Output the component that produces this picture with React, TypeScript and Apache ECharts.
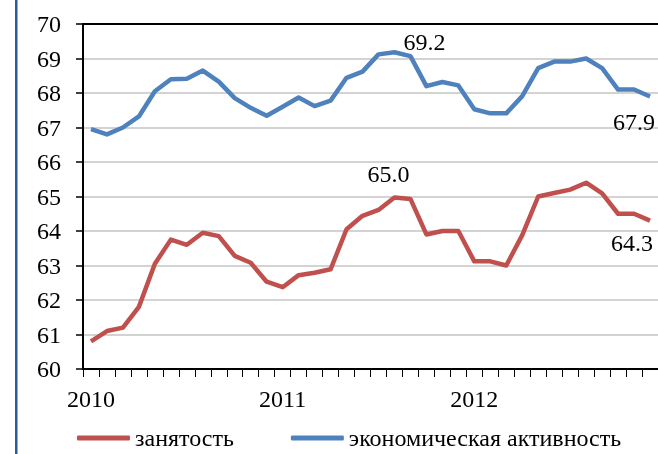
import React, { useEffect, useRef } from "react";
import * as echarts from "echarts";

const months: string[] = [
  "2010-01", "2010-02", "2010-03", "2010-04", "2010-05", "2010-06",
  "2010-07", "2010-08", "2010-09", "2010-10", "2010-11", "2010-12",
  "2011-01", "2011-02", "2011-03", "2011-04", "2011-05", "2011-06",
  "2011-07", "2011-08", "2011-09", "2011-10", "2011-11", "2011-12",
  "2012-01", "2012-02", "2012-03", "2012-04", "2012-05", "2012-06",
  "2012-07", "2012-08", "2012-09", "2012-10", "2012-11", "2012-12",
];

const yearTickLabels: Record<string, string> = {
  "2010-01": "2010",
  "2011-01": "2011",
  "2012-01": "2012",
};

const employment: number[] = [
  60.8, 61.1, 61.2, 61.8, 63.05, 63.75, 63.6, 63.95, 63.85, 63.28, 63.08, 62.53,
  62.37, 62.72, 62.79, 62.89, 64.05, 64.44, 64.61, 64.97, 64.93, 63.9, 64.0, 64.0,
  63.12, 63.12, 63.0, 63.88, 65.0, 65.1, 65.2, 65.4, 65.09, 64.5, 64.5, 64.3,
];

const activity: number[] = [
  66.95, 66.8, 67.0, 67.32, 68.05, 68.4, 68.41, 68.65, 68.33, 67.85, 67.57, 67.34,
  67.6, 67.87, 67.62, 67.78, 68.44, 68.62, 69.12, 69.18, 69.07, 68.2, 68.32, 68.22,
  67.53, 67.41, 67.41, 67.91, 68.72, 68.91, 68.91, 69.0, 68.72, 68.1, 68.1, 67.9,
];

const seriesNames = ["занятость", "экономическая активность"];

const FONT = "Liberation Serif";
const FS = 24;

type LabelSpec = { index: number; text: string; offset: [number, number] };

const employmentLabels: LabelSpec[] = [
  { index: 19, text: "65.0", offset: [-6, -24] },
  { index: 35, text: "64.3", offset: [-18, 22] },
];
const activityLabels: LabelSpec[] = [
  { index: 19, text: "69.2", offset: [30, -10] },
  { index: 35, text: "67.9", offset: [-16, 26] },
];

function buildData(values: number[], labels: LabelSpec[]) {
  return values.map((v, i) => {
    const spec = labels.find((l) => l.index === i);
    if (!spec) return v;
    return {
      value: v,
      label: {
        show: true,
        position: "inside",
        offset: spec.offset,
        formatter: spec.text,
        fontFamily: FONT,
        fontSize: FS,
        color: "#000",
      },
    };
  });
}

export default function App() {
  const ref = useRef<HTMLDivElement>(null);

  useEffect(() => {
    if (!ref.current) return;
    const chart = echarts.init(ref.current, undefined, { renderer: "svg" });
    chart.setOption({
      animation: false,
      graphic: [
        {
          type: "rect",
          shape: { x: 15, y: 0, width: 2.5, height: 454 },
          style: { fill: "#2f5a98" },
        },
      ],
      legend: {
        data: seriesNames,
        left: 77,
        top: 426,
        padding: 0,
        icon: "roundRect",
        itemWidth: 53,
        itemHeight: 5,
        itemGap: 57,
        textStyle: { fontFamily: FONT, fontSize: FS, color: "#000" },
      },
      grid: { left: 83, top: 24, width: 576, height: 345 },
      xAxis: [
        {
          type: "category",
          data: months,
          boundaryGap: true,
          axisLine: { show: true, lineStyle: { color: "#000", width: 2 } },
          axisTick: {
            show: true,
            interval: 0,
            alignWithLabel: false,
            length: 8,
            inside: false,
            lineStyle: { color: "#000", width: 1 },
          },
          axisLabel: {
            interval: 0,
            margin: 18,
            fontFamily: FONT,
            fontSize: FS,
            color: "#000",
            formatter: (v: string) => yearTickLabels[v] ?? "",
          },
          splitLine: { show: false },
        },
        {
          type: "category",
          data: months,
          position: "top",
          axisLine: { show: true, lineStyle: { color: "#000", width: 2 } },
          axisTick: { show: false },
          axisLabel: { show: false },
        },
      ],
      yAxis: {
        type: "value",
        min: 60,
        max: 70,
        interval: 1,
        axisLine: { show: true, lineStyle: { color: "#000", width: 2 } },
        axisTick: { show: true, length: 7, lineStyle: { color: "#000", width: 1.5 } },
        axisLabel: {
          margin: 22,
          fontFamily: FONT,
          fontSize: FS,
          color: "#000",
        },
        splitLine: { show: true, lineStyle: { color: "#c4c4c4", width: 1.5 } },
      },
      series: [
        {
          name: seriesNames[0],
          type: "line",
          data: buildData(employment, employmentLabels),
          symbol: "circle",
          symbolSize: 0,
          showSymbol: true,
          lineStyle: { color: "#c0504d", width: 4.5, join: "round" },
          itemStyle: { color: "#c0504d" },
          label: { show: false },
          z: 3,
        },
        {
          name: seriesNames[1],
          type: "line",
          data: buildData(activity, activityLabels),
          symbol: "circle",
          symbolSize: 0,
          showSymbol: true,
          lineStyle: { color: "#4f81bd", width: 4.5, join: "round" },
          itemStyle: { color: "#4f81bd" },
          label: { show: false },
          z: 3,
        },
      ],
    });
    return () => chart.dispose();
  }, []);

  return (
    <div
      ref={ref}
      style={{ position: "fixed", left: 0, top: 0, width: 658, height: 454 }}
    />
  );
}
